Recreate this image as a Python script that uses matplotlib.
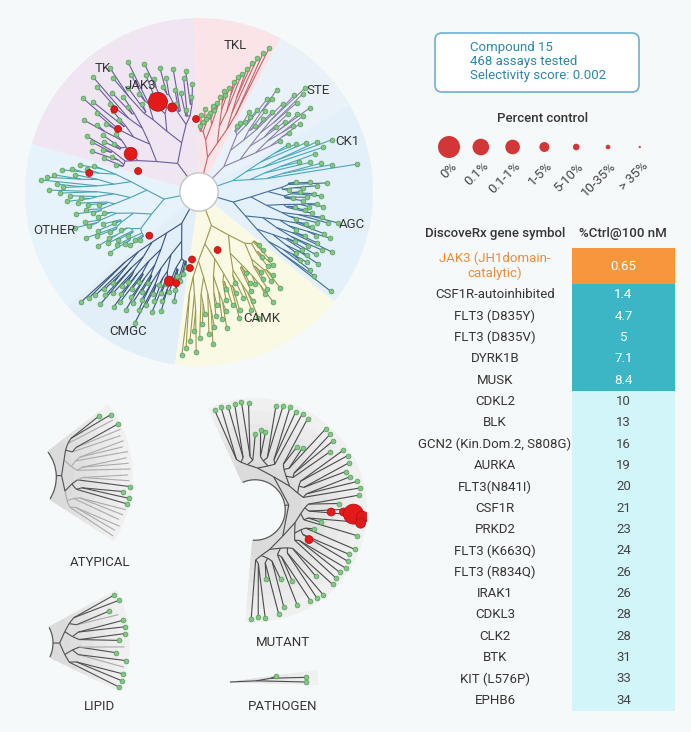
import numpy as np
import matplotlib
matplotlib.use('Agg')
import matplotlib.pyplot as plt
from matplotlib.patches import Wedge, Circle, FancyBboxPatch, Arc
from matplotlib.collections import LineCollection

plt.rcParams['font.family'] = ['Roboto', 'DejaVu Sans']

# ---- kinome tree data (leaf tip radius as fraction of the tree radius) ----
groups = ['TK', 'TKL', 'STE', 'CK1', 'AGC', 'CAMK', 'CMGC', 'OTHER']
group_span = {'TK': (91.5, 164), 'TKL': (62, 91.5), 'STE': (30, 62), 'CK1': (8, 30),
              'AGC': (-39, 8), 'CAMK': (262, 321), 'CMGC': (221, 262), 'OTHER': (164, 221)}

tk_r = [0.62, 0.55, 0.70, 0.66, 0.48, 0.58, 0.72, 0.60, 0.52, 0.68, 0.75, 0.64, 0.56,
        0.70, 0.80, 0.74, 0.62, 0.58, 0.85, 0.78, 0.66, 0.60, 0.72, 0.88, 0.82, 0.70,
        0.64, 0.76, 0.90, 0.84, 0.72, 0.68, 0.62, 0.80, 0.86, 0.74, 0.66, 0.58, 0.70,
        0.78, 0.64, 0.56, 0.62, 0.72, 0.68, 0.60, 0.54, 0.66, 0.58, 0.50]
tkl_r = [0.92, 0.88, 0.84, 0.80, 0.76, 0.72, 0.70, 0.66, 0.62, 0.58, 0.60, 0.56, 0.52,
         0.48, 0.50, 0.46, 0.44, 0.42, 0.48, 0.40, 0.44, 0.38]
ste_r = [0.55, 0.62, 0.70, 0.66, 0.74, 0.80, 0.72, 0.64, 0.58, 0.68, 0.76, 0.82, 0.85,
         0.78, 0.70, 0.62, 0.56, 0.50, 0.60, 0.68, 0.74, 0.66, 0.58, 0.52, 0.48, 0.54,
         0.46, 0.44]
ck1_r = [0.92, 0.78, 0.72, 0.66, 0.60, 0.70, 0.76, 0.82, 0.74, 0.68, 0.62, 0.58]
agc_r = [0.95, 0.82, 0.78, 0.70, 0.74, 0.66, 0.80, 0.72, 0.68, 0.76, 0.62, 0.70, 0.78,
         0.84, 0.74, 0.66, 0.60, 0.72, 0.80, 0.76, 0.68, 0.64, 0.58, 0.70, 0.76, 0.82,
         0.72, 0.66, 0.62, 0.56, 0.64, 0.72, 0.68, 0.60, 0.54, 0.62, 0.70, 0.66, 0.58,
         0.52, 0.60, 0.68, 0.74, 0.64, 0.56]
camk_r = [0.94, 0.90, 0.86, 0.80, 0.92, 0.84, 0.76, 0.70, 0.82, 0.88, 0.78, 0.72, 0.66,
          0.74, 0.80, 0.70, 0.64, 0.58, 0.68, 0.76, 0.72, 0.62, 0.56, 0.66, 0.74, 0.80,
          0.70, 0.64, 0.60, 0.54, 0.62, 0.70, 0.76, 0.68, 0.62, 0.58, 0.66, 0.72, 0.64,
          0.58, 0.52, 0.60, 0.56, 0.50, 0.46]
cmgc_r = [0.93, 0.88, 0.84, 0.78, 0.72, 0.80, 0.86, 0.76, 0.70, 0.66, 0.74, 0.82, 0.78,
          0.68, 0.62, 0.72, 0.80, 0.74, 0.66, 0.60, 0.70, 0.76, 0.84, 0.72, 0.64, 0.58,
          0.68, 0.74, 0.62, 0.56, 0.66, 0.72, 0.60, 0.54, 0.50, 0.58, 0.64, 0.52, 0.48,
          0.44]
other_r = [0.62, 0.70, 0.66, 0.74, 0.80, 0.72, 0.84, 0.88, 0.91, 0.82, 0.78, 0.86, 0.80,
           0.74, 0.68, 0.76, 0.70, 0.64, 0.58, 0.66, 0.72, 0.62, 0.56, 0.60, 0.68, 0.74,
           0.66, 0.58, 0.52, 0.62, 0.70, 0.64, 0.56, 0.50, 0.58, 0.66, 0.60, 0.54, 0.48,
           0.56, 0.62, 0.52, 0.46, 0.50, 0.44]
group_leaves = {'TK': tk_r, 'TKL': tkl_r, 'STE': ste_r, 'CK1': ck1_r, 'AGC': agc_r,
                'CAMK': camk_r, 'CMGC': cmgc_r, 'OTHER': other_r}

# hits on the main tree (angle in deg, radius fraction, marker radius px)
hit_angle = [114.5, 107.6, 135.7, 92.3, 142.1, 150.8, 161.0, 170.2, 221.3, 287.8,
             264.1, 263.2, 251.6, 256.0]
hit_r = [0.57, 0.51, 0.68, 0.42, 0.59, 0.45, 0.37, 0.64, 0.38, 0.35, 0.39, 0.44, 0.54, 0.54]
hit_size = [9.5, 4.5, 3.5, 3.5, 3.5, 6.5, 3.5, 3.5, 3.5, 3.5, 3.5, 3.5, 5.0, 3.5]

# small trees
atyp_r = [0.97, 0.96, 0.98, 0.95, 0.97, 0.98, 0.98, 0.98, 0.92, 0.98, 0.97, 0.96,
          0.98, 0.97, 0.96, 0.98, 0.95, 0.97, 0.96, 0.98, 0.98, 0.96, 0.97, 0.88]
atyp_tested = [0, 0, 0, 0, 0, 0, 1, 1, 1, 1, 0, 0, 0, 0, 0, 0, 0, 0, 0, 0, 1, 0, 1, 1]
lipid_r = [0.99, 0.99, 0.98, 0.97, 0.98, 0.88, 0.95, 0.90, 0.96, 0.97, 0.96, 0.93, 0.86, 0.98, 0.96]
lipid_tested = [1, 1, 1, 0, 1, 1, 0, 1, 1, 1, 1, 0, 1, 1, 1]
mutant_r = [0.97, 0.96, 0.97, 0.62, 0.95, 0.90, 0.66, 0.93, 0.72, 0.95, 0.96, 0.97, 0.80,
            0.96, 0.95, 0.94, 0.96, 0.95, 0.93, 0.96, 0.55, 0.94, 0.60, 0.96, 0.95, 0.92,
            0.75, 0.94, 0.96, 0.95, 0.90, 0.88, 0.94, 0.96, 0.95, 0.85, 0.93, 0.95, 0.96,
            0.70, 0.68, 0.94, 0.96, 0.95, 0.97, 0.96, 0.95, 0.70, 0.72, 0.68, 0.96, 0.97,
            0.96, 0.95, 0.97, 0.96]
mut_hit_angle = [-1.5, -1.3, -2.4, -3.8, -7.1, -28.7]
mut_hit_r = [0.68, 0.79, 0.88, 0.96, 0.95, 0.55]
mut_hit_size = [4, 4, 10, 6, 5, 4]
patho_r = [0.86, 0.87, 0.53]

# ---- legend / table data ----
pct_classes = ['0%', '0.1%', '0.1-1%', '1-5%', '5-10%', '10-35%', '> 35%']
pct_radius = [11, 8.3, 7.3, 5, 3.3, 2.3, 1.1]

genes = ['JAK3 (JH1domain-\ncatalytic)', 'CSF1R-autoinhibited', 'FLT3 (D835Y)', 'FLT3 (D835V)',
         'DYRK1B', 'MUSK', 'CDKL2', 'BLK', 'GCN2 (Kin.Dom.2, S808G)', 'AURKA', 'FLT3(N841I)',
         'CSF1R', 'PRKD2', 'FLT3 (K663Q)', 'FLT3 (R834Q)', 'IRAK1', 'CDKL3', 'CLK2', 'BTK',
         'KIT (L576P)', 'EPHB6']
ctrl = [0.65, 1.4, 4.7, 5, 7.1, 8.4, 10, 13, 16, 19, 20, 21, 23, 24, 26, 26, 28, 28, 31, 33, 34]

# ---- styles ----
W, H = 691, 732
BG = '#f6f9f9'
sector_col = {'TK': '#efe6f2', 'TKL': '#fbe4e7', 'STE': '#e9f2f8', 'CK1': '#e3f0fa',
              'AGC': '#e5f1fa', 'CAMK': '#f9f9e4', 'CMGC': '#e2eef8', 'OTHER': '#e6f3fb'}
line_col = {'TK': '#6a5c9c', 'TKL': '#c8626c', 'STE': '#8c80aa', 'CK1': '#4aa8ba',
            'AGC': '#3f6e98', 'CAMK': '#9a9850', 'CMGC': '#36527c', 'OTHER': '#4ca2b2'}
label_pos = {'TK': (128, 0.90), 'TKL': (76, 0.87), 'STE': (40.6, 0.90), 'CK1': (18.9, 0.90),
             'AGC': (-11.8, 0.90), 'CAMK': (-63.4, 0.81), 'CMGC': (243, 0.90), 'OTHER': (194.8, 0.86)}
TXT = '#353535'
DOT_FC, DOT_EC = '#84c684', '#539c5a'
HIT_FC, HIT_EC = '#e21a1a', '#b21010'

fig = plt.figure(figsize=(W / 100, H / 100), dpi=100, facecolor=BG)
ax = fig.add_axes([0, 0, 1, 1])
ax.set_xlim(0, W)
ax.set_ylim(H, 0)
ax.axis('off')


def sub_axes(cx, cy, R):
    a = fig.add_axes([(cx - R) / W, 1 - (cy + R) / H, 2 * R / W, 2 * R / H])
    a.set_xlim(-1, 1)
    a.set_ylim(-1, 1)
    a.axis('off')
    a.patch.set_alpha(0)
    return a


def pol(a_deg, r):
    t = np.deg2rad(a_deg)
    return r * np.cos(t), r * np.sin(t)


def draw_tree(a, angles, radii, color, r0, step, tested=None, light=None, lw=0.8, clamp=0.88):
    n = len(angles)
    if tested is None:
        tested = [1] * n
    segs, cols = [], []

    def rec(lo, hi, depth):
        if hi - lo == 1:
            return angles[lo], radii[lo], tested[lo]
        mid = (lo + hi) // 2
        kids = [rec(lo, mid, depth + 1), rec(mid, hi, depth + 1)]
        ang = (kids[0][0] + kids[1][0]) / 2
        r = min(r0 + step * depth, clamp * min(radii[lo:hi]))
        t = max(k[2] for k in kids)
        for ka, kr, kt in kids:
            segs.append([pol(ang, r), pol(ka, kr)])
            cols.append(color if kt else light)
        return ang, r, t

    ra, rr, rt = rec(0, n, 1)
    segs.append([pol(ra, r0), pol(ra, rr)])
    cols.append(color if rt else light)
    a.add_collection(LineCollection(segs, colors=cols, linewidths=lw, zorder=3))
    x, y = pol(np.asarray(angles), np.asarray(radii))
    m = np.asarray(tested, dtype=bool)
    a.scatter(x[m], y[m], s=12, c=DOT_FC, edgecolors=DOT_EC, linewidths=0.5, zorder=4)


def hits(a, angs, rs, sizes):
    x, y = pol(np.asarray(angs), np.asarray(rs))
    s = (2 * np.asarray(sizes) * 0.72) ** 2
    a.scatter(x, y, s=s, c=HIT_FC, edgecolors=HIT_EC, linewidths=0.5, zorder=6)


def gray_fan(a, t1, t2, r_in):
    shades = np.linspace(0.94, 0.86, 6)
    for k, rad in enumerate(np.linspace(1.0, r_in + 0.15, 6)):
        a.add_patch(Wedge((0, 0), rad, t1, t2, width=rad - r_in,
                          facecolor=str(shades[k]), edgecolor='none', zorder=1))
    if r_in > 0:
        a.add_patch(Arc((0, 0), 2 * r_in, 2 * r_in, theta1=t1 + 1, theta2=t2 - 1,
                        color='#5a5a5a', lw=0.9, zorder=3))


# ---- main kinome tree ----
am = sub_axes(199, 192, 174)
for g in groups:
    t1, t2 = group_span[g]
    am.add_patch(Wedge((0, 0), 1.0, t1, t2, facecolor=sector_col[g], edgecolor='none', zorder=1))
    n = len(group_leaves[g])
    angs = np.linspace(t1 + 2, t2 - 2, n)
    draw_tree(am, angs, group_leaves[g], line_col[g], 0.11, 0.095, clamp=0.92)
    la, lr = label_pos[g]
    am.text(*pol(la, lr), g, ha='center', va='center', fontsize=9.5, color=TXT, zorder=7)
am.add_patch(Circle((0, 0), 0.11, facecolor='white', edgecolor='#c4c4c4', lw=1, zorder=5))
hits(am, hit_angle, hit_r, hit_size)
am.text(*pol(118.9, 0.70), 'JAK3', ha='center', va='center', fontsize=9.5, color=TXT, zorder=7)

# ---- small trees ----
a1 = sub_axes(15, 477, 118)
gray_fan(a1, -33, 38, 0.35)
draw_tree(a1, np.linspace(-31, 36, len(atyp_r)), atyp_r, '#505050', 0.35, 0.045,
          tested=atyp_tested, light='#ababab', lw=0.8)

a2 = sub_axes(20, 643, 110)
gray_fan(a2, -26, 29, 0.30)
draw_tree(a2, np.linspace(-24, 27, len(lipid_r)), lipid_r, '#505050', 0.30, 0.06,
          tested=lipid_tested, light='#ababab', lw=0.8)

a3 = sub_axes(255, 510, 112)
gray_fan(a3, -95, 115, 0.27)
draw_tree(a3, np.linspace(-92, 112, len(mutant_r)), mutant_r, '#4a4a4a', 0.27, 0.035, lw=0.8)
hits(a3, mut_hit_angle, mut_hit_r, mut_hit_size)

a4 = sub_axes(230, 682, 88)
gray_fan(a4, -2, 8, 0.0)
draw_tree(a4, np.linspace(0, 7, len(patho_r)), patho_r, '#4a4a4a', 0.0, 0.3, lw=0.8)

for name, (px, py) in {'ATYPICAL': (100, 562), 'LIPID': (100, 707),
                       'MUTANT': (283, 642), 'PATHOGEN': (283, 707)}.items():
    ax.text(px, py, name, ha='center', va='center', fontsize=9.5, color=TXT)

# ---- info box ----
ax.add_patch(FancyBboxPatch((435, 33), 204, 59, boxstyle='round,pad=0,rounding_size=7',
                            facecolor='white', edgecolor='#6eb0d2', lw=1.2))
for yy, s in zip([47, 62, 76], ['Compound 15', '468 assays tested', 'Selectivity score: 0.002']):
    ax.text(470, yy, s, ha='left', va='center', fontsize=9.5, color='#2f86aa')

# ---- percent control legend ----
ax.text(543, 119, 'Percent control', ha='center', va='center', fontsize=9.5,
        fontweight='medium', color=TXT)
lx = 449 + 31.8 * np.arange(len(pct_classes))
ax.scatter(lx, np.full(len(lx), 147), s=(2 * np.asarray(pct_radius) * 0.72) ** 2,
           c='#d23636', edgecolors='none', zorder=3)
for x, s in zip(lx, pct_classes):
    ax.text(x + 6, 164, s, ha='right', va='center', rotation=45, rotation_mode='anchor',
            fontsize=9.5, color='#444444')

# ---- table ----
ax.text(495, 233, 'DiscoveRx gene symbol', ha='center', va='center', fontsize=9.5,
        fontweight='medium', color=TXT)
ax.text(623, 233, '%Ctrl@100 nM', ha='center', va='center', fontsize=9.5,
        fontweight='medium', color=TXT)
heights = np.array([36] + [21.35] * (len(genes) - 1))
tops = 248 + np.concatenate([[0], np.cumsum(heights)[:-1]])
centers = tops + heights / 2
cell_col = ['#f7963c' if v < 1 else '#3cb5c5' if v < 10 else '#d2f5fa' for v in ctrl]
ax.barh(centers, 103, left=572, height=heights, color=cell_col, edgecolor='none')
for c, g, v in zip(centers, genes, ctrl):
    first = v < 1
    ax.text(495, c, g, ha='center', va='center', fontsize=9.5,
            color='#f08a3a' if first else TXT, linespacing=1.15)
    ax.text(623.5, c, f'{v:g}', ha='center', va='center', fontsize=9.5,
            color='white' if v < 10 else '#444444')

fig.savefig('out.png', dpi=100, facecolor=BG)
